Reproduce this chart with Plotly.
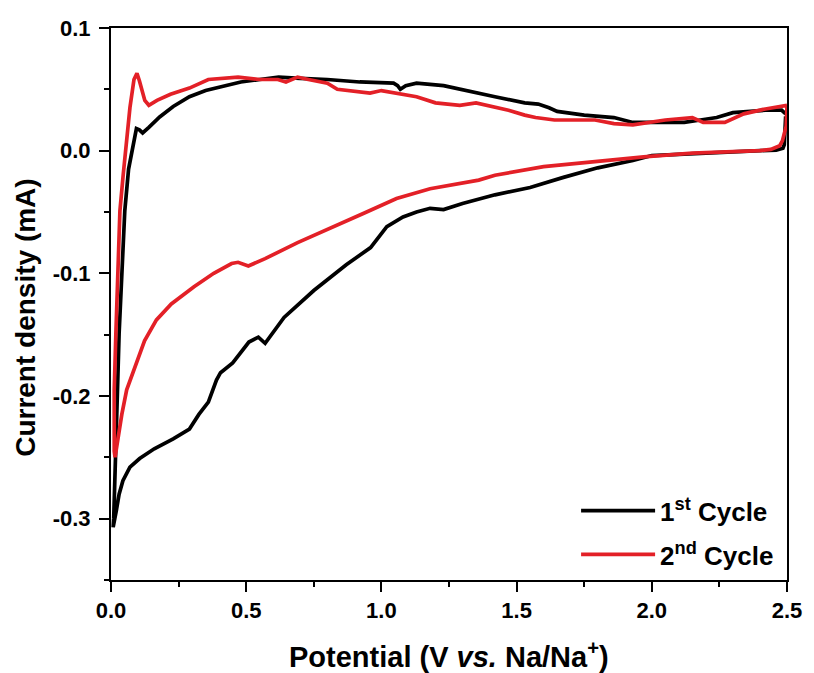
import plotly.graph_objects as go

# ---- data ----
cycle1_potential = [2.495, 2.493, 2.49, 2.485, 2.46, 2.40, 2.30, 2.15, 2.00, 1.93, 1.80, 1.67, 1.55, 1.42,
                    1.30, 1.23, 1.18, 1.13, 1.08, 1.02, 0.96, 0.87, 0.75, 0.64, 0.57, 0.545, 0.51, 0.45,
                    0.405, 0.39, 0.36, 0.325, 0.29, 0.23, 0.16, 0.106, 0.07, 0.044, 0.03, 0.02, 0.012, 0.008,
                    0.010, 0.014, 0.018, 0.024, 0.030, 0.039, 0.051, 0.065, 0.080, 0.088, 0.094, 0.105, 0.117,
                    0.14, 0.18, 0.23, 0.29, 0.35, 0.41, 0.48, 0.55, 0.62, 0.70, 0.80, 0.92, 1.045, 1.06, 1.07,
                    1.09, 1.13, 1.23, 1.35, 1.42, 1.53, 1.58, 1.62, 1.65, 1.75, 1.86, 1.93, 2.05, 2.12, 2.18,
                    2.24, 2.30, 2.42, 2.48, 2.495]
cycle1_current = [0.028, 0.012, 0.005, 0.002, 0.0005, 0.000, -0.001, -0.002, -0.004, -0.008, -0.014, -0.022,
                  -0.030, -0.036, -0.043, -0.048, -0.047, -0.050, -0.054, -0.062, -0.079, -0.093, -0.114,
                  -0.136, -0.157, -0.152, -0.156, -0.173, -0.181, -0.187, -0.205, -0.215, -0.227, -0.235,
                  -0.243, -0.251, -0.258, -0.269, -0.280, -0.293, -0.303, -0.307,
                  -0.300, -0.275, -0.250, -0.195, -0.149, -0.100, -0.049, -0.015, 0.004, 0.011, 0.018, 0.017,
                  0.0145, 0.019, 0.0275, 0.036, 0.044, 0.049, 0.052, 0.056, 0.058, 0.060, 0.059, 0.058, 0.056,
                  0.055, 0.053, 0.050, 0.053, 0.055, 0.053, 0.047, 0.044, 0.039, 0.038, 0.035, 0.032, 0.029,
                  0.027, 0.023, 0.023, 0.023, 0.025, 0.027, 0.031, 0.033, 0.033, 0.030]

cycle2_potential = [2.50, 2.50, 2.497, 2.49, 2.483, 2.473, 2.44, 2.40, 2.30, 2.15, 1.97, 1.79, 1.60, 1.42,
                    1.36, 1.18, 1.056, 0.935, 0.81, 0.69, 0.57, 0.508, 0.47, 0.446, 0.38, 0.307, 0.223,
                    0.168, 0.124, 0.088, 0.058, 0.04, 0.025, 0.015,
                    0.012, 0.012, 0.018, 0.024, 0.033, 0.045, 0.058, 0.07, 0.085, 0.096, 0.105, 0.115, 0.125,
                    0.14, 0.17, 0.22, 0.29, 0.36, 0.47, 0.55, 0.617, 0.647, 0.69, 0.73, 0.80, 0.837, 0.958,
                    1.0, 1.13, 1.2, 1.29, 1.35, 1.47, 1.53, 1.57, 1.64, 1.79, 1.86, 1.93, 2.05, 2.15, 2.19,
                    2.27, 2.34, 2.42, 2.50]
cycle2_current = [0.037, 0.027, 0.020, 0.014, 0.008, 0.004, 0.001, 0.000, -0.001, -0.002, -0.005, -0.009,
                  -0.013, -0.020, -0.024, -0.031, -0.039, -0.051, -0.063, -0.075, -0.088, -0.094, -0.091,
                  -0.092, -0.100, -0.111, -0.125, -0.138, -0.155, -0.177, -0.195, -0.215, -0.235, -0.250,
                  -0.245, -0.195, -0.149, -0.100, -0.049, -0.020, 0.009, 0.035, 0.058, 0.063, 0.057, 0.048,
                  0.041, 0.037, 0.041, 0.046, 0.051, 0.058, 0.060, 0.058, 0.058, 0.056, 0.060, 0.058, 0.055,
                  0.050, 0.047, 0.049, 0.044, 0.039, 0.037, 0.039, 0.033, 0.029, 0.027, 0.025, 0.025, 0.022,
                  0.021, 0.025, 0.027, 0.023, 0.023, 0.030, 0.034, 0.037]

series_names = ["1<sup>st</sup> Cycle", "2<sup>nd</sup> Cycle"]
series_colors = ["#000000", "#e32027"]

x_ticks = [0.0, 0.5, 1.0, 1.5, 2.0, 2.5]
x_ticktext = ["0.0", "0.5", "1.0", "1.5", "2.0", "2.5"]
y_ticks = [0.1, 0.0, -0.1, -0.2, -0.3]
y_ticktext = ["0.1", "0.0", "-0.1", "-0.2", "-0.3"]

FONT = "Liberation Sans, Arial, sans-serif"

fig = go.Figure()
for i, (xs, ys) in enumerate([(cycle1_potential, cycle1_current), (cycle2_potential, cycle2_current)]):
    fig.add_trace(go.Scatter(
        x=xs, y=ys, mode="lines", name=series_names[i], legendgroup=f"g{i}",
        line=dict(color=series_colors[i], width=3.7),
    ))

axis_common = dict(
    showline=True, linecolor="black", linewidth=2, mirror=True,
    ticks="outside", ticklen=10, tickwidth=2, tickcolor="black",
    showgrid=False, zeroline=False,
    tickfont=dict(family=FONT, size=22, color="black", weight="bold"),
)

fig.update_xaxes(range=[0, 2.5], tickvals=x_ticks, ticktext=x_ticktext,
                 minor=dict(tickmode="linear", tick0=0, dtick=0.25, ticks="outside", ticklen=5, tickwidth=2, tickcolor="black"),
                 **axis_common)
fig.update_yaxes(range=[-0.35, 0.1], tickvals=y_ticks, ticktext=y_ticktext,
                 minor=dict(tickmode="linear", tick0=0, dtick=0.05, ticks="outside", ticklen=5, tickwidth=2, tickcolor="black"),
                 ticklabelstandoff=4,
                 **axis_common)

fig.update_layout(
    width=814, height=673,
    margin=dict(l=111, r=19, t=28, b=93),
    paper_bgcolor="white", plot_bgcolor="white",
    showlegend=True,
    legend=dict(x=0.688, y=0.168, xanchor="left", yanchor="top",
                bgcolor="rgba(0,0,0,0)", borderwidth=0,
                font=dict(family=FONT, size=26, color="black", weight="bold"),
                itemwidth=74, tracegroupgap=7),
    annotations=[
        dict(text="Current density (mA)", xref="paper", yref="paper",
             x=-0.1257, y=0.475, xanchor="center", yanchor="middle", textangle=-90,
             showarrow=False, font=dict(family=FONT, size=28, color="black", weight="bold")),
        dict(text="Potential (V <i>vs.</i> Na/Na<sup>+</sup>)", xref="paper", yref="paper",
             x=0.5, y=-0.136, xanchor="center", yanchor="middle",
             showarrow=False, font=dict(family=FONT, size=29, color="black", weight="bold")),
    ],
)

fig.write_html("out.html")
